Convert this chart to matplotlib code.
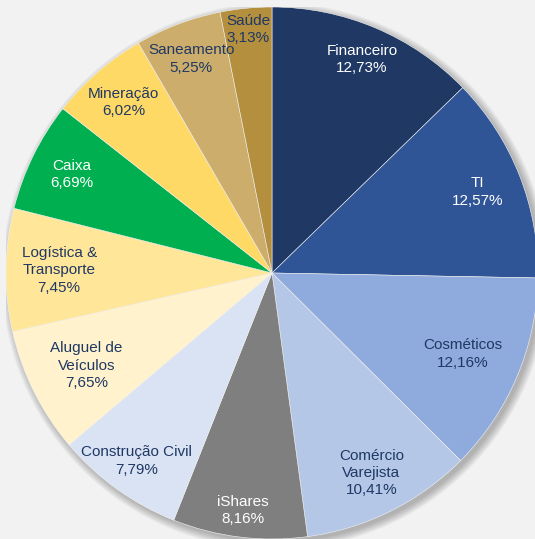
import numpy as np
import matplotlib.pyplot as plt
from matplotlib.patches import Circle

setores = ["Financeiro", "TI", "Cosméticos", "Comércio\nVarejista", "iShares",
           "Construção Civil", "Aluguel de\nVeículos", "Logística &\nTransporte",
           "Caixa", "Mineração", "Saneamento", "Saúde"]
pesos = [12.73, 12.57, 12.16, 10.41, 8.16, 7.79, 7.65, 7.45, 6.69, 6.02, 5.25, 3.13]
cores = ["#1f3864", "#2f5597", "#8faadc", "#b4c7e7", "#7f7f7f", "#dae3f3",
         "#fff2cc", "#ffe699", "#00b050", "#ffd966", "#cdad6c", "#b38f3e"]
cor_texto = ["white", "white", "#1f3864", "#1f3864", "white", "#1f3864",
             "#1f3864", "#1f3864", "white", "#1f3864", "#1f3864", "#1f3864"]
dist_rotulo = [0.87, 0.83, 0.78, 0.84, 0.90, 0.87, 0.78, 0.80, 0.84, 0.85, 0.86, 0.92]

fig = plt.figure(figsize=(5.35, 5.39), dpi=100, facecolor="#f2f2f2")
ax = fig.add_axes([6 / 535, 0, 532 / 535, 532 / 539])
ax.set_facecolor("#f2f2f2")

# soft shadow behind the pie
for k in range(8):
    ax.add_patch(Circle((0.012, -0.012), 1.0 + 0.004 * k, color="black",
                        alpha=0.035, lw=0, zorder=0))

wedges, _ = ax.pie(pesos, colors=cores, startangle=90, counterclock=False,
                   radius=1.0, wedgeprops=dict(linewidth=0.4, edgecolor="#f2f2f2"))
for w in wedges:
    w.set_zorder(2)

for w, nome, p, c, d in zip(wedges, setores, pesos, cor_texto, dist_rotulo):
    ang = np.deg2rad((w.theta1 + w.theta2) / 2)
    txt = f"{nome}\n{p:.2f}%".replace(".", ",")
    ax.text(d * np.cos(ang), d * np.sin(ang), txt, ha="center", va="center",
            color=c, fontsize=11, family="Liberation Sans", linespacing=1.3,
            zorder=3)

ax.set_xlim(-1, 1)
ax.set_ylim(-1, 1)
ax.set_aspect("equal")
ax.axis("off")

fig.savefig("out.png", dpi=100, facecolor=fig.get_facecolor())
